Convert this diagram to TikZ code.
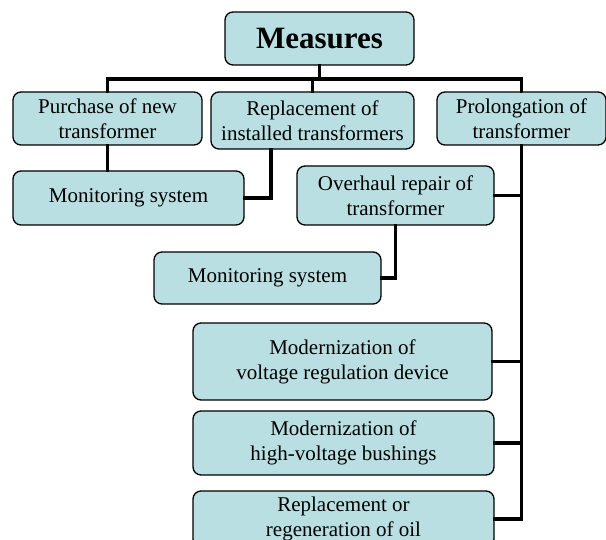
\documentclass[tikz,border=0pt]{standalone}
\usepackage{fontspec}
\setmainfont{Liberation Serif}
\usepackage{xcolor}
\usepackage{tikz}
\usetikzlibrary{positioning, calc}

\definecolor{boxfill}{RGB}{185,223,227}

\begin{document}
\begin{tikzpicture}[x=1pt, y=-1pt,
  measure/.style={draw=black, line width=1.3pt, fill=boxfill, rounded corners=8pt,
    align=center, inner sep=0pt, font=\fontsize{21}{25}\selectfont},
  link/.style={line width=3.6pt, line cap=rect}]
  \useasboundingbox (0,0) rectangle (606,540);
  %% root
  \node[measure, minimum width=189pt, minimum height=53pt,
    font=\fontsize{31}{36}\selectfont\bfseries] (root) at (319.5,38.5) {Measures};
  %% first level
  \node[measure, minimum width=189pt, minimum height=53pt] (purchase) at (107.5,118.5)
    {Purchase of new\\transformer};
  \node[measure, minimum width=203pt, minimum height=57pt] (replace) at (312.5,120.5)
    {Replacement of\\installed transformers};
  \node[measure, minimum width=169pt, minimum height=53pt] (prolong) at (521.5,118.5)
    {Prolongation of\\transformer};
  %% second level
  \node[measure, minimum width=231pt, minimum height=54pt] (monA) at (128.5,198)
    {Monitoring system};
  \node[measure, minimum width=197pt, minimum height=59pt] (overhaul) at (395.5,195.5)
    {Overhaul repair of\\transformer};
  \node[measure, minimum width=227pt, minimum height=52pt] (monB) at (267.5,278)
    {Monitoring system};
  \node[measure, minimum width=299pt, minimum height=77pt] (regdev) at (342.5,361.5)
    {Modernization of\\voltage regulation device};
  \node[measure, minimum width=301pt, minimum height=64pt] (bushing) at (343.5,443)
    {Modernization of\\high-voltage bushings};
  \node[measure, minimum width=301pt, minimum height=56pt] (oil) at (343.5,519)
    {Replacement or\\regeneration of oil};
  %% bus under the root
  \coordinate (bus) at (0,79);
  \draw[link] (root.south) -- (root.south |- bus);
  \draw[link] (purchase.north) |- (bus -| prolong.north) -- (prolong.north);
  \draw[link] (replace.north) -- (replace.north |- bus);
  %% left branches
  \draw[link] (purchase.south) -- (purchase.south |- monA.north);
  \draw[link] ([xshift=-41.5pt]replace.south) |- (monA.east);
  %% right trunk
  \draw[link] (prolong.south) -- (prolong.south |- oil.east);
  \foreach \leaf in {overhaul, regdev, bushing, oil}
    \draw[link] (\leaf.east) -- (\leaf.east -| prolong.south);
  \draw[link] (overhaul.south) |- (monB.east);
\end{tikzpicture}
\end{document}
